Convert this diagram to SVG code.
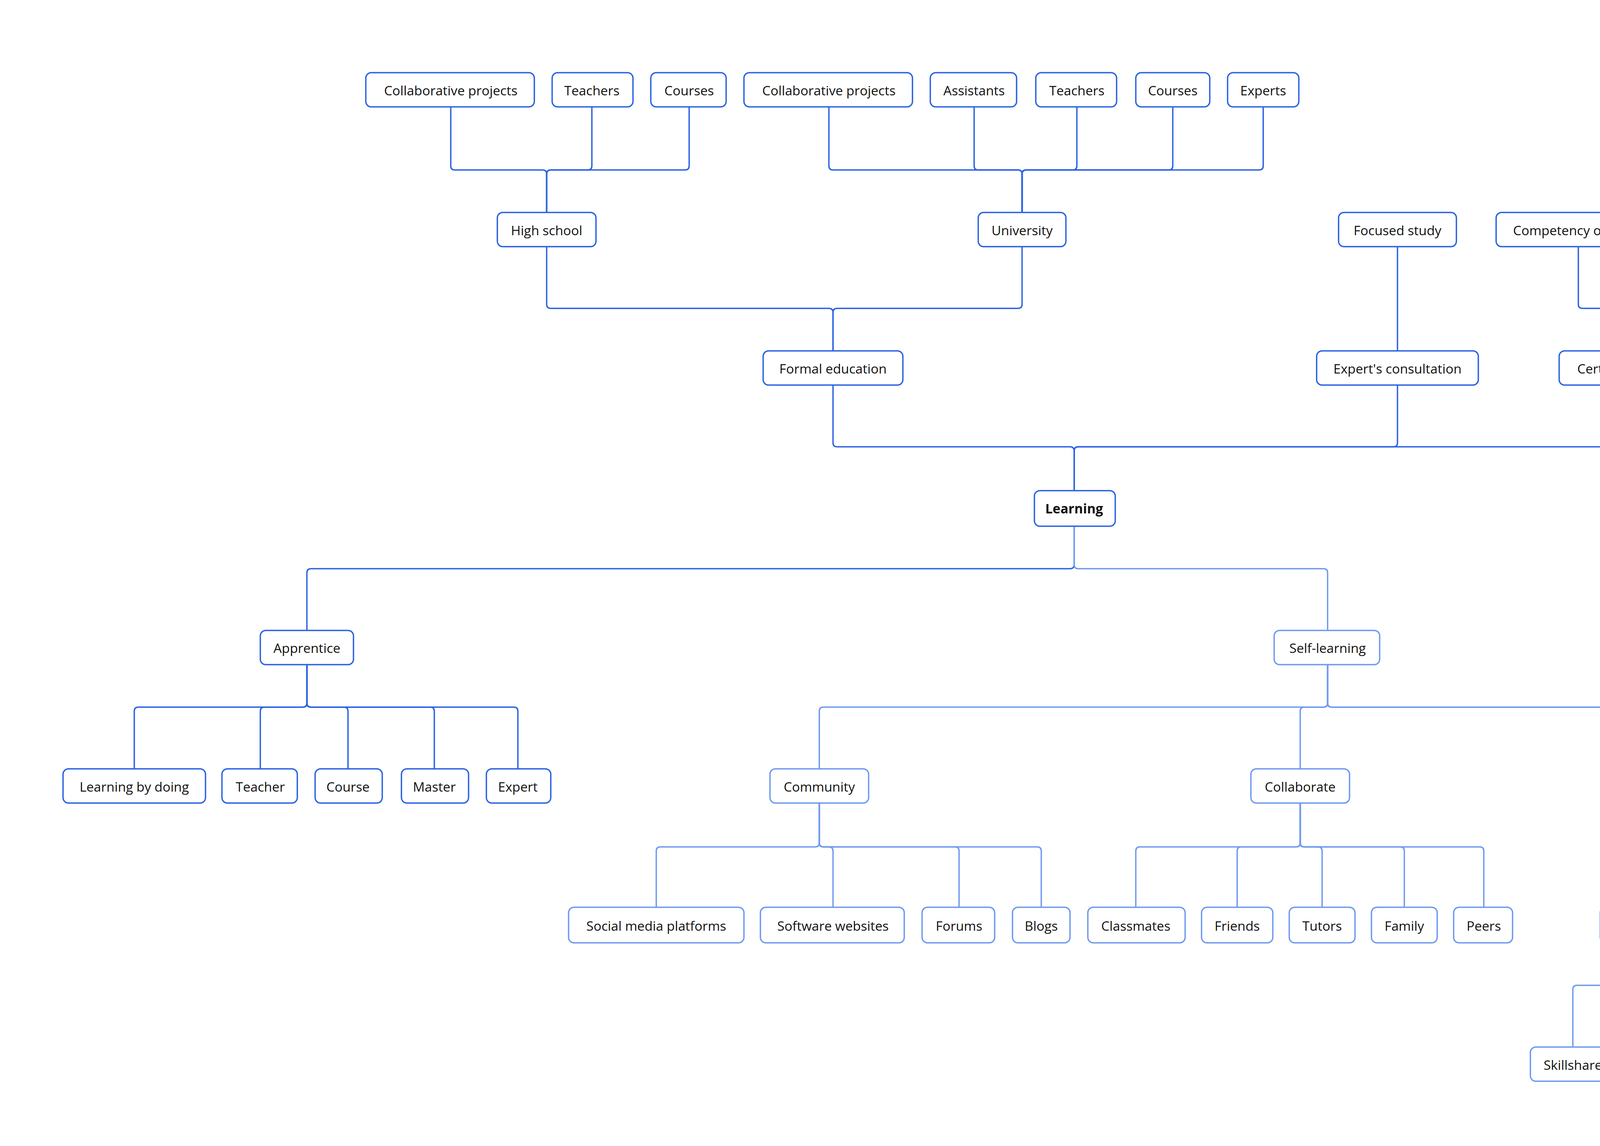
<svg xmlns="http://www.w3.org/2000/svg" width="5454" height="2933" viewBox="0 0 5454 2933">
<style>
.d{fill:#fff;stroke:#2b63e3;stroke-width:1}
.l{fill:#fff;stroke:#6f9af0;stroke-width:1}
text{font-family:"Open Sans","Noto Sans",sans-serif;font-size:9.6px;fill:#111;text-anchor:middle}
.cd path{fill:none;stroke:#2b63e3;stroke-width:1}
.cl path{fill:none;stroke:#6f9af0;stroke-width:1}
</style>
<rect width="5454" height="2933" fill="#fff"/>
<g transform="scale(3.5074)">
<g id="connectors">
<g class="cd">
<path d="M329 78V121Q329 124 332 124H396Q399 124 399 127V155"/>
<path d="M432 78V121Q432 124 429 124H402Q399 124 399 127V155"/>
<path d="M503 78V121Q503 124 500 124H402Q399 124 399 127V155"/>
<path d="M605 78V121Q605 124 608 124H743Q746 124 746 127V155"/>
<path d="M711 78V121Q711 124 714 124H743Q746 124 746 127V155"/>
<path d="M786 78V121Q786 124 783 124H749Q746 124 746 127V155"/>
<path d="M856 78V121Q856 124 853 124H749Q746 124 746 127V155"/>
<path d="M922 78V121Q922 124 919 124H749Q746 124 746 127V155"/>
<path d="M399 180V222Q399 225 402 225H605Q608 225 608 228V256"/>
<path d="M746 180V222Q746 225 743 225H611Q608 225 608 228V256"/>
<path d="M1020 180V256"/>
<path d="M1152 180V222Q1152 225 1155 225H1194Q1197 225 1197 228V256"/>
<path d="M1263 180V222Q1263 225 1260 225H1200Q1197 225 1197 228V256"/>
<path d="M608 281V323Q608 326 611 326H781Q784 326 784 329V358"/>
<path d="M1020 281V323Q1020 326 1017 326H787Q784 326 784 329V358"/>
<path d="M1197 281V323Q1197 326 1194 326H787Q784 326 784 329V358"/>
<path d="M784 384V412Q784 415 781 415H227Q224 415 224 418V460"/>
<path d="M224 485V513Q224 516 221 516H101Q98 516 98 519V561"/>
<path d="M224 485V513Q224 516 221 516H193Q190 516 190 519V561"/>
<path d="M224 485V513Q224 516 227 516H251Q254 516 254 519V561"/>
<path d="M224 485V513Q224 516 227 516H314Q317 516 317 519V561"/>
<path d="M224 485V513Q224 516 227 516H375Q378 516 378 519V561"/>
</g>
<g class="cl">
<path d="M784 384V412Q784 415 787 415H966Q969 415 969 418V460"/>
<path d="M969 485V513Q969 516 966 516H601Q598 516 598 519V561"/>
<path d="M969 485V513Q969 516 966 516H952Q949 516 949 519V561"/>
<path d="M969 485V513Q969 516 972 516H1248Q1251 516 1251 519V561"/>
<path d="M969 485V513Q969 516 972 516H1423Q1426 516 1426 519V561"/>
<path d="M969 485V513Q969 516 972 516H1492Q1495 516 1495 519V561"/>
<path d="M598 586V615Q598 618 595 618H482Q479 618 479 621V662"/>
<path d="M598 586V615Q598 618 601 618H605Q608 618 608 621V662"/>
<path d="M598 586V615Q598 618 601 618H697Q700 618 700 621V662"/>
<path d="M598 586V615Q598 618 601 618H757Q760 618 760 621V662"/>
<path d="M949 586V615Q949 618 946 618H832Q829 618 829 621V662"/>
<path d="M949 586V615Q949 618 946 618H906Q903 618 903 621V662"/>
<path d="M949 586V615Q949 618 952 618H962Q965 618 965 621V662"/>
<path d="M949 586V615Q949 618 952 618H1022Q1025 618 1025 621V662"/>
<path d="M949 586V615Q949 618 952 618H1080Q1083 618 1083 621V662"/>
<path d="M1251 586V615Q1251 618 1248 618H1219Q1216 618 1216 621V662"/>
<path d="M1251 586V615Q1251 618 1254 618H1354Q1357 618 1357 621V662"/>
<path d="M1216 688V716Q1216 719 1213 719H1151Q1148 719 1148 722V764"/>
<path d="M1216 688V716Q1216 719 1219 719H1219Q1222 719 1222 722V764"/>
<path d="M1216 688V716Q1216 719 1219 719H1287Q1290 719 1290 722V764"/>
</g>
</g>
<g id="n1"><rect class="d" x="267" y="53" width="123" height="25" rx="4"/><text x="329" y="69.5">Collaborative projects</text></g>
<g id="n2"><rect class="d" x="403" y="53" width="59" height="25" rx="4"/><text x="432" y="69.5">Teachers</text></g>
<g id="n3"><rect class="d" x="475" y="53" width="55" height="25" rx="4"/><text x="503" y="69.5">Courses</text></g>
<g id="n4"><rect class="d" x="543" y="53" width="123" height="25" rx="4"/><text x="605" y="69.5">Collaborative projects</text></g>
<g id="n5"><rect class="d" x="679" y="53" width="63" height="25" rx="4"/><text x="711" y="69.5">Assistants</text></g>
<g id="n6"><rect class="d" x="756" y="53" width="59" height="25" rx="4"/><text x="786" y="69.5">Teachers</text></g>
<g id="n7"><rect class="d" x="829" y="53" width="54" height="25" rx="4"/><text x="856" y="69.5">Courses</text></g>
<g id="n8"><rect class="d" x="896" y="53" width="52" height="25" rx="4"/><text x="922" y="69.5">Experts</text></g>
<g id="n9"><rect class="d" x="363" y="155" width="72" height="25" rx="4"/><text x="399" y="171.5">High school</text></g>
<g id="n10"><rect class="d" x="714" y="155" width="64" height="25" rx="4"/><text x="746" y="171.5">University</text></g>
<g id="n11"><rect class="d" x="977" y="155" width="86" height="25" rx="4"/><text x="1020" y="171.5">Focused study</text></g>
<g id="n12"><rect class="d" x="1092" y="155" width="121" height="25" rx="4"/><text x="1152" y="171.5">Competency of a tool</text></g>
<g id="n13"><rect class="d" x="1225" y="155" width="76" height="25" rx="4"/><text x="1263" y="171.5">Skill focused</text></g>
<g id="n14"><rect class="d" x="557" y="256" width="102" height="25" rx="4"/><text x="608" y="272.5">Formal education</text></g>
<g id="n15"><rect class="d" x="961" y="256" width="118" height="25" rx="4"/><text x="1020" y="272.5">Expert's consultation</text></g>
<g id="n16"><rect class="d" x="1138" y="256" width="117" height="25" rx="4"/><text x="1197" y="272.5">Certificate programs</text></g>
<g id="n17"><rect class="d" x="755" y="358" width="59" height="26" rx="4"/><text x="784" y="374.5" font-weight="bold">Learning</text></g>
<g id="n18"><rect class="d" x="190" y="460" width="68" height="25" rx="4"/><text x="224" y="476.5">Apprentice</text></g>
<g id="n19"><rect class="l" x="930" y="460" width="77" height="25" rx="4"/><text x="969" y="476.5">Self-learning</text></g>
<g id="n20"><rect class="d" x="46" y="561" width="104" height="25" rx="4"/><text x="98" y="577.5">Learning by doing</text></g>
<g id="n21"><rect class="d" x="162" y="561" width="55" height="25" rx="4"/><text x="190" y="577.5">Teacher</text></g>
<g id="n22"><rect class="d" x="230" y="561" width="49" height="25" rx="4"/><text x="254" y="577.5">Course</text></g>
<g id="n23"><rect class="d" x="293" y="561" width="49" height="25" rx="4"/><text x="317" y="577.5">Master</text></g>
<g id="n24"><rect class="d" x="355" y="561" width="47" height="25" rx="4"/><text x="378" y="577.5">Expert</text></g>
<g id="n25"><rect class="l" x="562" y="561" width="72" height="25" rx="4"/><text x="598" y="577.5">Community</text></g>
<g id="n26"><rect class="l" x="913" y="561" width="72" height="25" rx="4"/><text x="949" y="577.5">Collaborate</text></g>
<g id="n27"><rect class="l" x="1222" y="561" width="58" height="25" rx="4"/><text x="1251" y="577.5">Tutorials</text></g>
<g id="n28"><rect class="l" x="1397" y="561" width="59" height="25" rx="4"/><text x="1426" y="577.5">Mentors</text></g>
<g id="n29"><rect class="l" x="1467" y="561" width="56" height="25" rx="4"/><text x="1495" y="577.5">Courses</text></g>
<g id="n30"><rect class="l" x="415" y="662" width="128" height="26" rx="4"/><text x="479" y="679">Social media platforms</text></g>
<g id="n31"><rect class="l" x="555" y="662" width="105" height="26" rx="4"/><text x="608" y="679">Software websites</text></g>
<g id="n32"><rect class="l" x="673" y="662" width="53" height="26" rx="4"/><text x="700" y="679">Forums</text></g>
<g id="n33"><rect class="l" x="739" y="662" width="42" height="26" rx="4"/><text x="760" y="679">Blogs</text></g>
<g id="n34"><rect class="l" x="794" y="662" width="71" height="26" rx="4"/><text x="829" y="679">Classmates</text></g>
<g id="n35"><rect class="l" x="877" y="662" width="52" height="26" rx="4"/><text x="903" y="679">Friends</text></g>
<g id="n36"><rect class="l" x="941" y="662" width="48" height="26" rx="4"/><text x="965" y="679">Tutors</text></g>
<g id="n37"><rect class="l" x="1001" y="662" width="48" height="26" rx="4"/><text x="1025" y="679">Family</text></g>
<g id="n38"><rect class="l" x="1061" y="662" width="43" height="26" rx="4"/><text x="1083" y="679">Peers</text></g>
<g id="n39"><rect class="l" x="1168" y="662" width="97" height="26" rx="4"/><text x="1216" y="679">Course websites</text></g>
<g id="n40"><rect class="l" x="1328" y="662" width="58" height="26" rx="4"/><text x="1357" y="679">Youtube</text></g>
<g id="n41"><rect class="l" x="1117" y="764" width="62" height="25" rx="4"/><text x="1148" y="780.5">Skillshare</text></g>
<g id="n42"><rect class="l" x="1191" y="764" width="61" height="25" rx="4"/><text x="1222" y="780.5">Coursera</text></g>
<g id="n43"><rect class="l" x="1265" y="764" width="51" height="25" rx="4"/><text x="1290" y="780.5">Udemy</text></g>
</g>
</svg>
